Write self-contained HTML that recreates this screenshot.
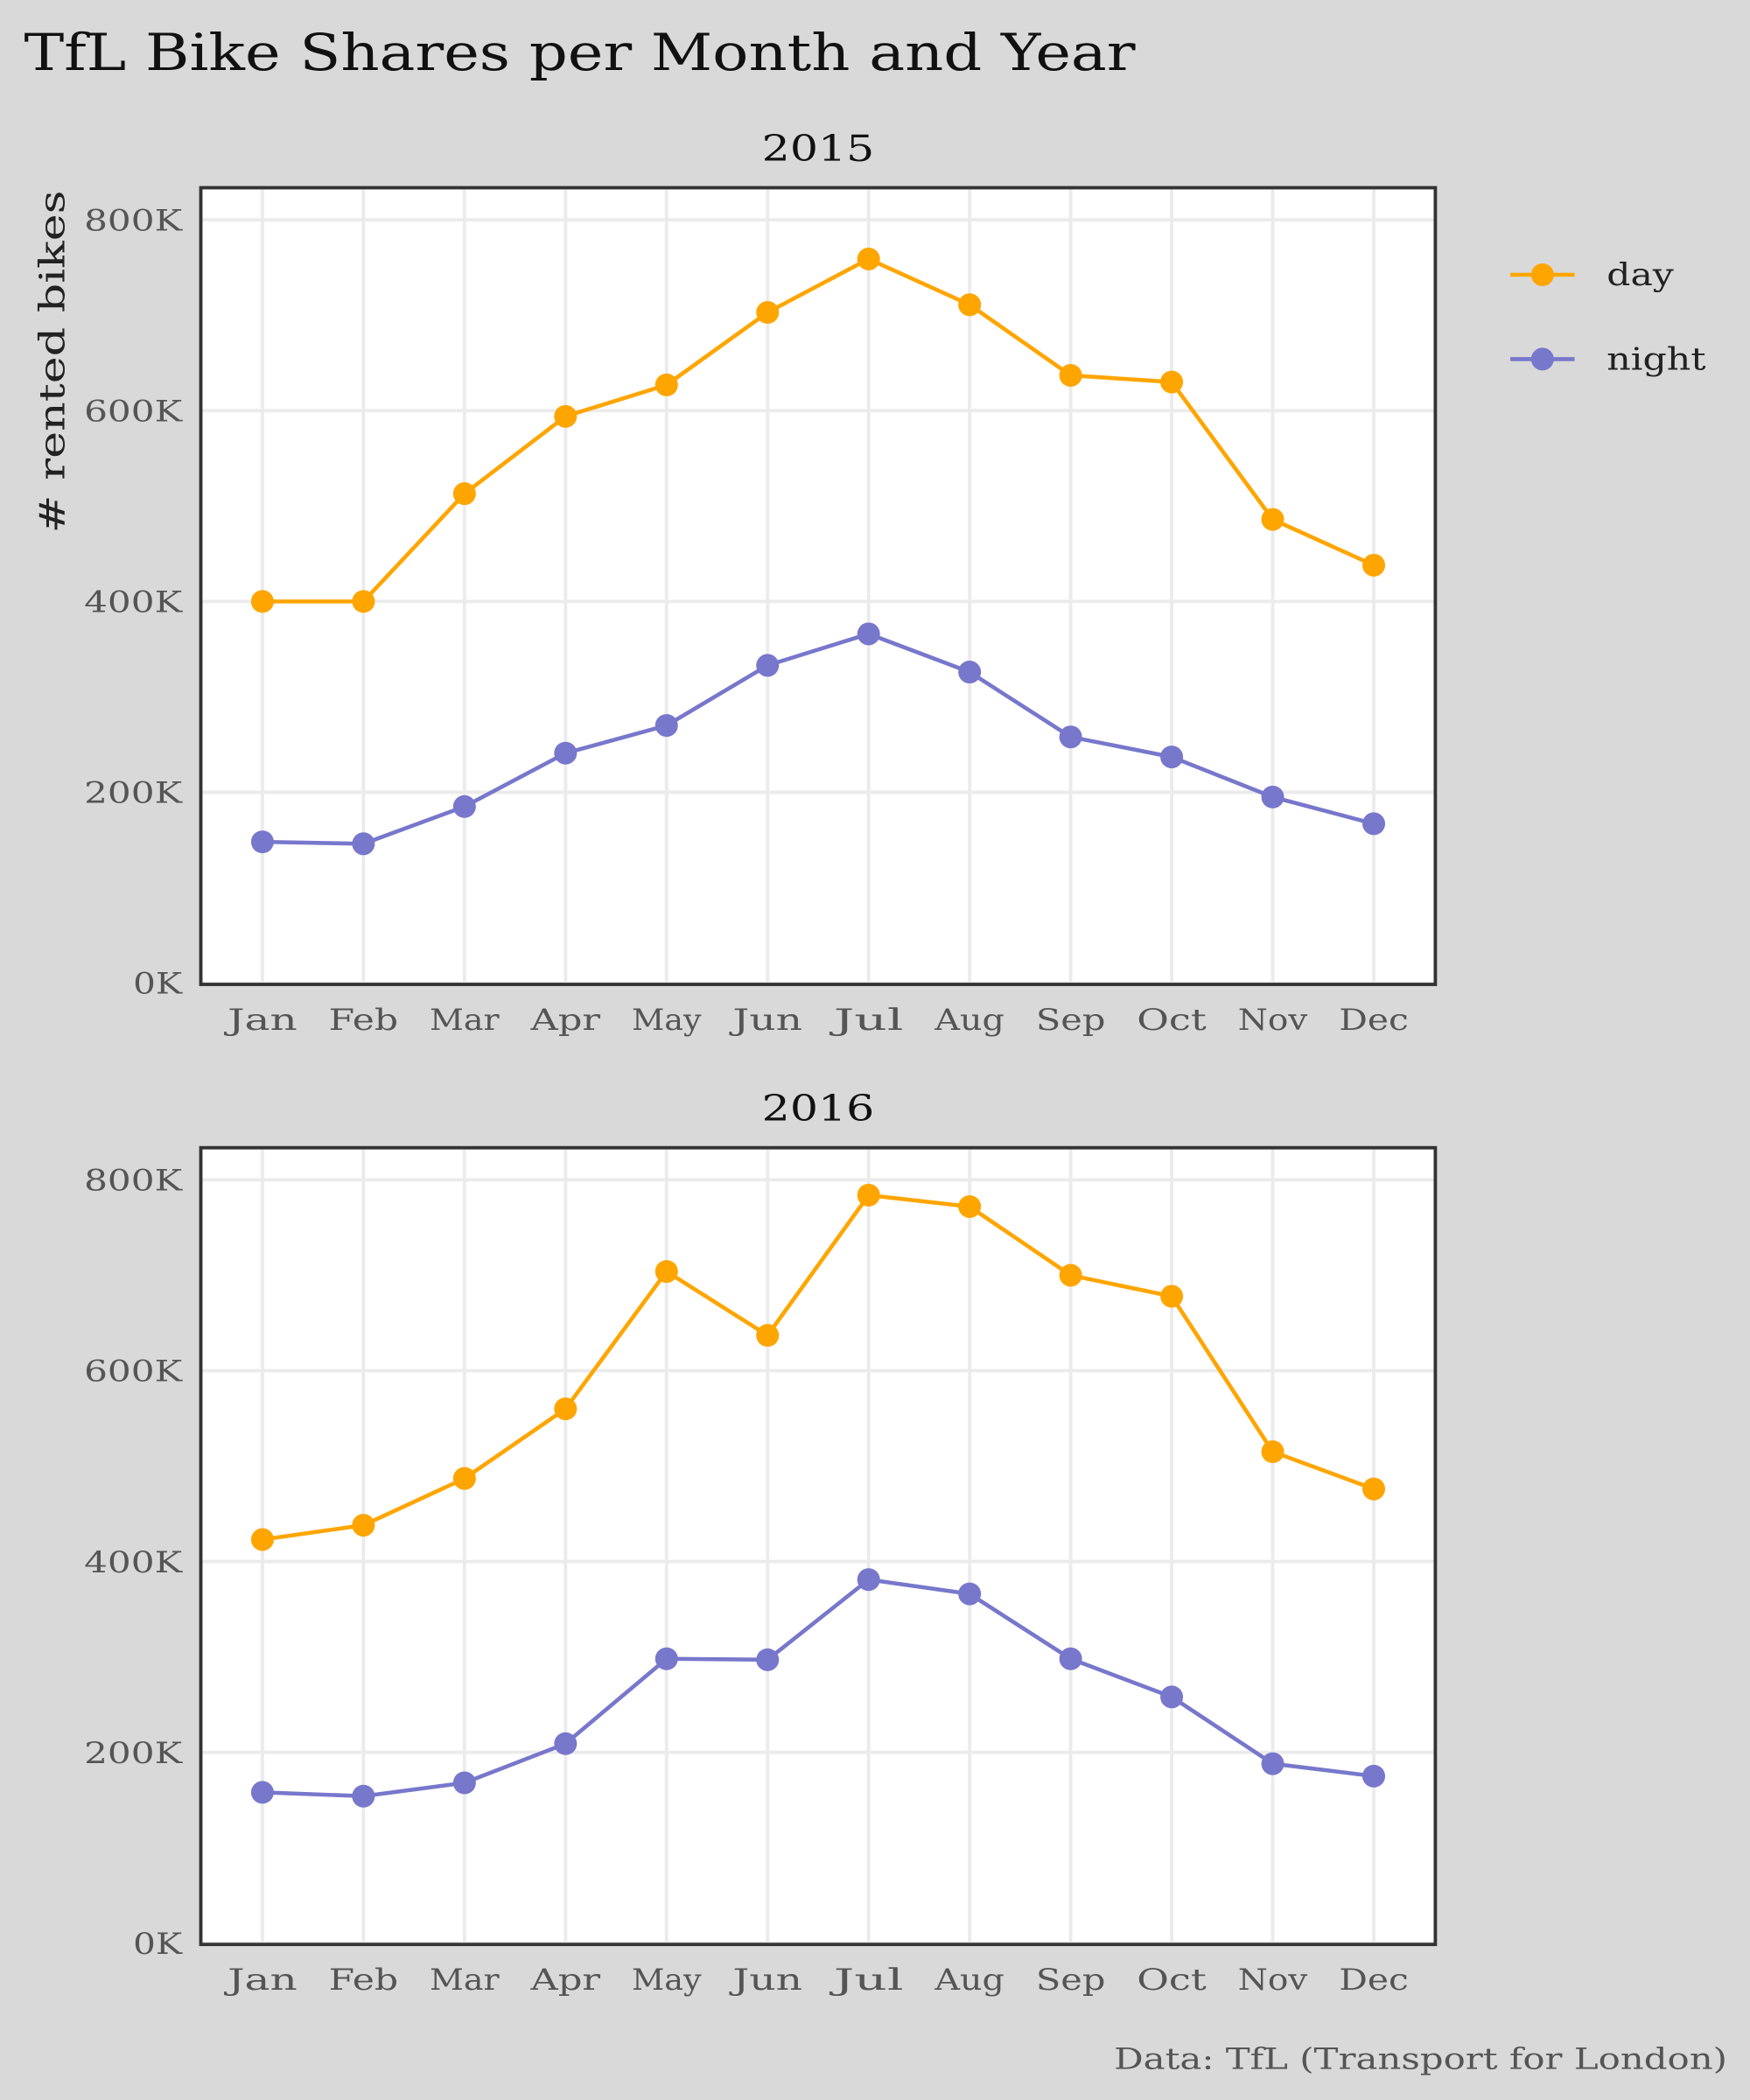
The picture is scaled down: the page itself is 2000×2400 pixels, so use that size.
<!DOCTYPE html>
<html><head><meta charset="utf-8"><style>
html,body{margin:0;padding:0;background:#d9d9d9;}
svg{display:block;font-family:"DejaVu Serif","Liberation Serif",serif;}
</style></head><body>
<svg id="chart" width="2000" height="2400" viewBox="0 0 1307 1568" xmlns="http://www.w3.org/2000/svg">
<rect width="1307" height="1568" fill="#d9d9d9"/>
<text x="18" y="52" font-size="38" fill="#111" textLength="830" lengthAdjust="spacingAndGlyphs">TfL Bike Shares per Month and Year</text>
<text transform="translate(48,270) rotate(-90)" text-anchor="middle" font-size="26" fill="#222" textLength="256" lengthAdjust="spacingAndGlyphs"># rented bikes</text>
<text x="1290" y="1545" text-anchor="end" font-size="22" fill="#555" textLength="458" lengthAdjust="spacingAndGlyphs">Data: TfL (Transport for London)</text>
<g>
<line x1="1128" y1="205" x2="1176" y2="205" stroke="#FFA500" stroke-width="3"/>
<circle cx="1152" cy="205" r="8.5" fill="#FFA500"/>
<text x="1200" y="213" font-size="23" fill="#222" textLength="50" lengthAdjust="spacingAndGlyphs">day</text>
<line x1="1128" y1="268" x2="1176" y2="268" stroke="#7777CC" stroke-width="3"/>
<circle cx="1152" cy="268" r="8.5" fill="#7777CC"/>
<text x="1200" y="276" font-size="23" fill="#222" textLength="74" lengthAdjust="spacingAndGlyphs">night</text>
</g>
<g id="panels"></g>
</svg>
<script>
const months = ["Jan","Feb","Mar","Apr","May","Jun","Jul","Aug","Sep","Oct","Nov","Dec"];
const yTicks = [0,200,400,600,800];
const yTickLabels = ["0K","200K","400K","600K","800K"];
const years = ["2015","2016"];
const day2015 = [400,400,513,594,627,703,759,711,637,630,486,438];
const night2015 = [148,146,185,241,270,333,366,326,258,237,195,167];
const day2016 = [423,438,487,560,704,637,784,772,700,678,515,476];
const night2016 = [158,154,168,209,298,297,381,366,298,258,188,175];

const NS="http://www.w3.org/2000/svg";
const g=document.getElementById('panels');
function el(t,a,p){const e=document.createElementNS(NS,t);for(const k in a)e.setAttribute(k,a[k]);(p||g).appendChild(e);return e;}
const panels=[{year:years[0],top:140,day:day2015,night:night2015},{year:years[1],top:857,day:day2016,night:night2016}];
panels.forEach((p,pi)=>{
  const left=150,right=1072,top=p.top,bottom=p.top+595;
  const y0=bottom-1, y800=top+24;
  const ys=v=>y0-(v/800)*(y0-y800);
  const xs=i=>196+i*(1026-196)/11;
  const pg=el('g',{});
  
  
  const bg=el('rect',{x:left,y:top,width:right-left,height:bottom-top,fill:'#fff'},pg);
  
  
  yTicks.forEach((t,i)=>{
    const gl=el('line',{x1:left,x2:right,y1:ys(t),y2:ys(t),stroke:'#ebebeb','stroke-width':2.5},pg);
    
    
    const lab=yTickLabels[i];
    const tl=el('text',{x:left-14,y:ys(t)+8,'text-anchor':'end','font-size':22,fill:'#555',textLength:lab.length*18.3,lengthAdjust:'spacingAndGlyphs'},pg);
    tl.textContent=lab;
    
    
  });
  months.forEach((m,i)=>{
    const gl=el('line',{x1:xs(i),x2:xs(i),y1:top,y2:bottom,stroke:'#ebebeb','stroke-width':2.5},pg);
    
    
    const tl=el('text',{x:xs(i),y:bottom+34,'text-anchor':'middle','font-size':22,fill:'#555',textLength:52,lengthAdjust:'spacingAndGlyphs'},pg);
    tl.textContent=m;
    
    
  });
  const fr=el('rect',{x:left,y:top,width:right-left,height:bottom-top,fill:'none',stroke:'#333','stroke-width':2.5},pg);
  
  
  const st=el('text',{x:(left+right)/2,y:top-20,'text-anchor':'middle','font-size':27,fill:'#111',textLength:84,lengthAdjust:'spacingAndGlyphs'},pg);
  st.textContent=p.year;
  
  
  [['day',p.day,'#FFA500'],['night',p.night,'#7777CC']].forEach(([name,vals,col])=>{
    const ln=el('polyline',{points:vals.map((v,i)=>xs(i)+','+ys(v)).join(' '),fill:'none',stroke:col,'stroke-width':3},pg);
    
    
    vals.forEach((v,i)=>{
      const c=el('circle',{cx:xs(i),cy:ys(v),r:8.5,fill:col},pg);
      
      
    });
  });
});
</script>
</body></html>
